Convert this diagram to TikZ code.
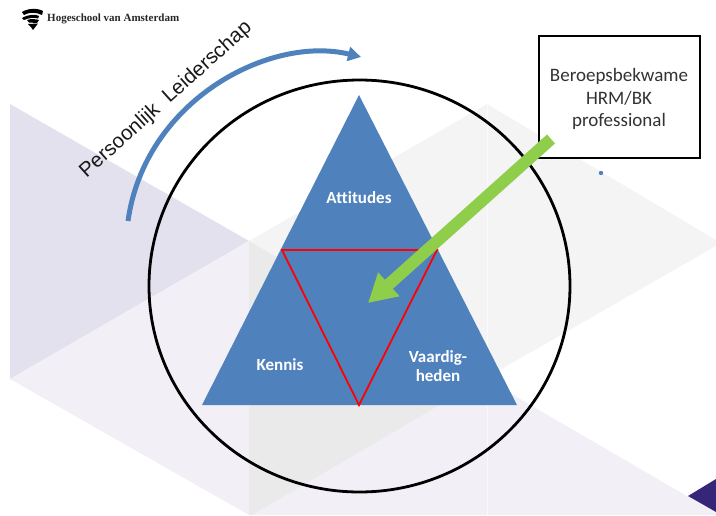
\documentclass[tikz,border=0pt]{standalone}
\usepackage{fontspec}
\setmainfont{Carlito}[RawFeature={-liga}]
\newfontfamily\arialfont{Liberation Sans}
\newfontfamily\logofont{Liberation Serif}
\usetikzlibrary{arrows.meta,shadows,calc,shapes.geometric}
\definecolor{lilacdark}{HTML}{E4E1EE}
\definecolor{lilaclight}{HTML}{F2F0F6}
\definecolor{greylight}{HTML}{F4F4F4}
\definecolor{greyoverlap}{HTML}{EAEAEA}
\definecolor{hvablue}{HTML}{4F81BD}
\definecolor{hvapurple}{HTML}{37257A}
\definecolor{arrowgreen}{HTML}{8FCE4B}
\tikzset{
  label text/.style={text=white, font=\fontsize{17}{18.5}\selectfont\bfseries, align=center},
  box frame/.style={draw=black, line width=2pt, fill=white,
    minimum width=161pt, minimum height=122pt,
    drop shadow={shadow xshift=1.5pt, shadow yshift=-1.5pt, opacity=0.5}},
  box text/.style={text=black!80, align=center, font=\fontsize{19}{22.5}\selectfont},
}
\begin{document}
\begin{tikzpicture}[x=1pt,y=-1pt]
  \useasboundingbox (0,0) rectangle (716,515);
  % background
  \fill[lilacdark] (10,104) -- (249,241) -- (10,379) -- cycle;
  \fill[lilaclight] (10,379) -- (249,241) -- (716,513) -- (716,515) -- (249,515) -- cycle;
  \fill[greylight] (249,241) -- (487,104) -- (716,240) -- (716,246) -- (484,379) -- cycle;
  \fill[greyoverlap] (249,241) -- (484,379) -- (252,515) -- (249,515) -- cycle;
  \draw[white, line width=0.6pt, opacity=0.6] (487,104) -- (487,515);
  \fill[hvapurple] (688,496) -- (716,479) -- (716,512) -- cycle;
  \fill[hvablue] (601,173) circle (2.2pt);
  % logo
  \node[anchor=west, inner sep=0pt, font=\logofont\fontsize{11}{13}\selectfont\bfseries, text=black!85] (logotext) at (47,18.5) {Hogeschool van Amsterdam};
  \fill[black] (22,12) .. controls (28,8) and (38,8) .. (43,11) -- (42,15) .. controls (36,12) and (29,12) .. (24,15) -- cycle;
  \fill[black] (22,18) .. controls (29,14) and (36,14) .. (39,16) -- (38,18.5) .. controls (34,17) and (29,18) .. (24,20) -- cycle;
  \fill[black] (27,20) .. controls (31,18.5) and (36,19) .. (39,20) -- (37,23) -- (29,22.5) -- cycle;
  \fill[black] (28,24) -- (38,23.5) -- (33,30) -- (31,27) -- cycle;
  % circle and triangles
  \node[draw=black, line width=2.8pt, ellipse, minimum width=421pt, minimum height=412pt, inner sep=0pt] (ring) at (359.5,286) {};
  \coordinate (top) at (359,95);
  \coordinate (baseleft) at (202,405);
  \coordinate (baseright) at (517,405);
  \coordinate (redleft) at (282,250);
  \coordinate (redright) at (437,250);
  \coordinate (redbottom) at (359,405);
  \fill[hvablue] (top) -- (baseright) -- (baseleft) -- cycle;
  \draw[red, line width=1.8pt, line join=miter] (redleft) -- (redright) -- (redbottom) -- cycle;
  \node[label text] (attitudes) at (359,198) {Attitudes};
  \node[label text] (kennis) at (280,365) {Kennis};
  \node[label text] (vaardig) at (438,366) {Vaardig-\\heden};
  % box and green arrow
  \node[box frame] (box) at (619,96.5) {};
  \node[box text] (boxlabel) at (619,99) {Beroepsbekwame\\HRM/BK\\professional};
  \coordinate (arrowstart) at (551,139);
  \coordinate (arrowtip) at (368,303);
  \draw[arrowgreen, line width=12pt, -{Triangle[length=28pt,width=30pt]}] (arrowstart) -- (arrowtip);
  % persoonlijk leiderschap
  \coordinate (arcstart) at (128,221);
  \coordinate (arcend) at (361,57);
  \draw[hvablue, line width=5pt, -{Triangle[length=13pt,width=14pt]}] (arcstart) .. controls (145,100) and (270,35) .. (arcend);
  \node[rotate=42, font=\arialfont\fontsize{20.5}{25}\selectfont, text=black!90] (leiderschap) at (166,100) {Persoonlijk\ \ Leiderschap};
\end{tikzpicture}
\end{document}
